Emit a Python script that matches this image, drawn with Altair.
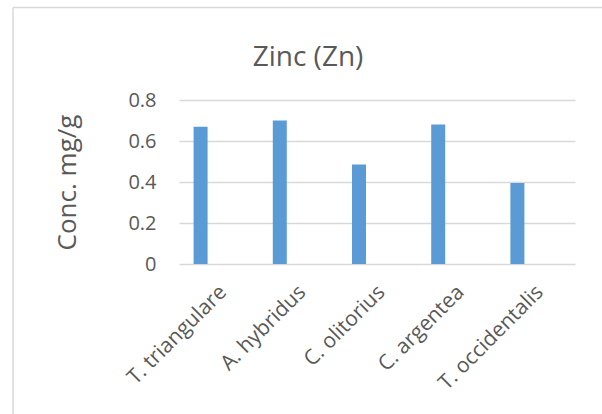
import altair as alt
import pandas as pd

# Zinc concentration per plant species (mg/g)
species = ["T. triangulare", "A. hybridus", "C. olitorius", "C. argentea", "T. occidentalis"]
zinc = [0.67, 0.70, 0.485, 0.68, 0.395]

df = pd.DataFrame({"species": species, "zinc": zinc})

FONT = "Open Sans"
TEXT = "#595959"
GRID = "#d9d9d9"
BAR = "#5B9BD5"

W, H = 396, 164

# bars sit a little left of each category band's centre
bars = alt.Chart(df).mark_bar(size=14, color=BAR, xOffset=-18).encode(
    x=alt.X(
        "species:N",
        sort=species,
        scale=alt.Scale(paddingInner=0, paddingOuter=0),
        axis=alt.Axis(
            title=None,
            labelAngle=-45,
            labelAlign="right",
            labelBaseline="top",
            labelFont=FONT,
            labelFontSize=21,
            labelColor=TEXT,
            labelPadding=17,
            labelOffset=-3,
            ticks=False,
            domain=False,
            grid=False,
        ),
    ),
    y=alt.Y(
        "zinc:Q",
        scale=alt.Scale(domain=[0, 0.8], nice=False),
        axis=alt.Axis(
            title="Conc. mg/g",
            titleFont=FONT,
            titleFontSize=26,
            titleFontWeight="normal",
            titleColor=TEXT,
            titleX=-112,
            titleBaseline="middle",
            values=[0, 0.2, 0.4, 0.6, 0.8],
            format="~g",
            labelFont=FONT,
            labelFontSize=20,
            labelColor=TEXT,
            labelPadding=23,
            ticks=False,
            domain=False,
            grid=True,
            gridColor=GRID,
            gridWidth=1.5,
        ),
    ),
)

# Light frame around the chart area (top and left edges)
frame_df = pd.DataFrame({"k": [0]})
top_edge = alt.Chart(frame_df).mark_rule(color=GRID, strokeWidth=1.5).encode(
    x=alt.value(-166), x2=alt.value(423), y=alt.value(-92.5)
)
left_edge = alt.Chart(frame_df).mark_rule(color=GRID, strokeWidth=1.5).encode(
    x=alt.value(-166), y=alt.value(-92.5), y2=alt.value(314)
)

chart = (
    alt.layer(top_edge, left_edge, bars)
    .properties(
        width=W,
        height=H,
        title=alt.TitleParams(
            "Zinc (Zn)",
            font=FONT,
            fontSize=28,
            fontWeight="normal",
            color=TEXT,
            anchor="middle",
            baseline="alphabetic",
            dx=-69,
            offset=-87,
        ),
        autosize=alt.AutoSizeParams(type="none"),
        padding={"left": 179, "top": 100, "right": 27, "bottom": 150},
        background="white",
    )
    .configure_view(stroke=None)
)

chart.save("out.html", embed_options={"renderer": "svg", "actions": False})
